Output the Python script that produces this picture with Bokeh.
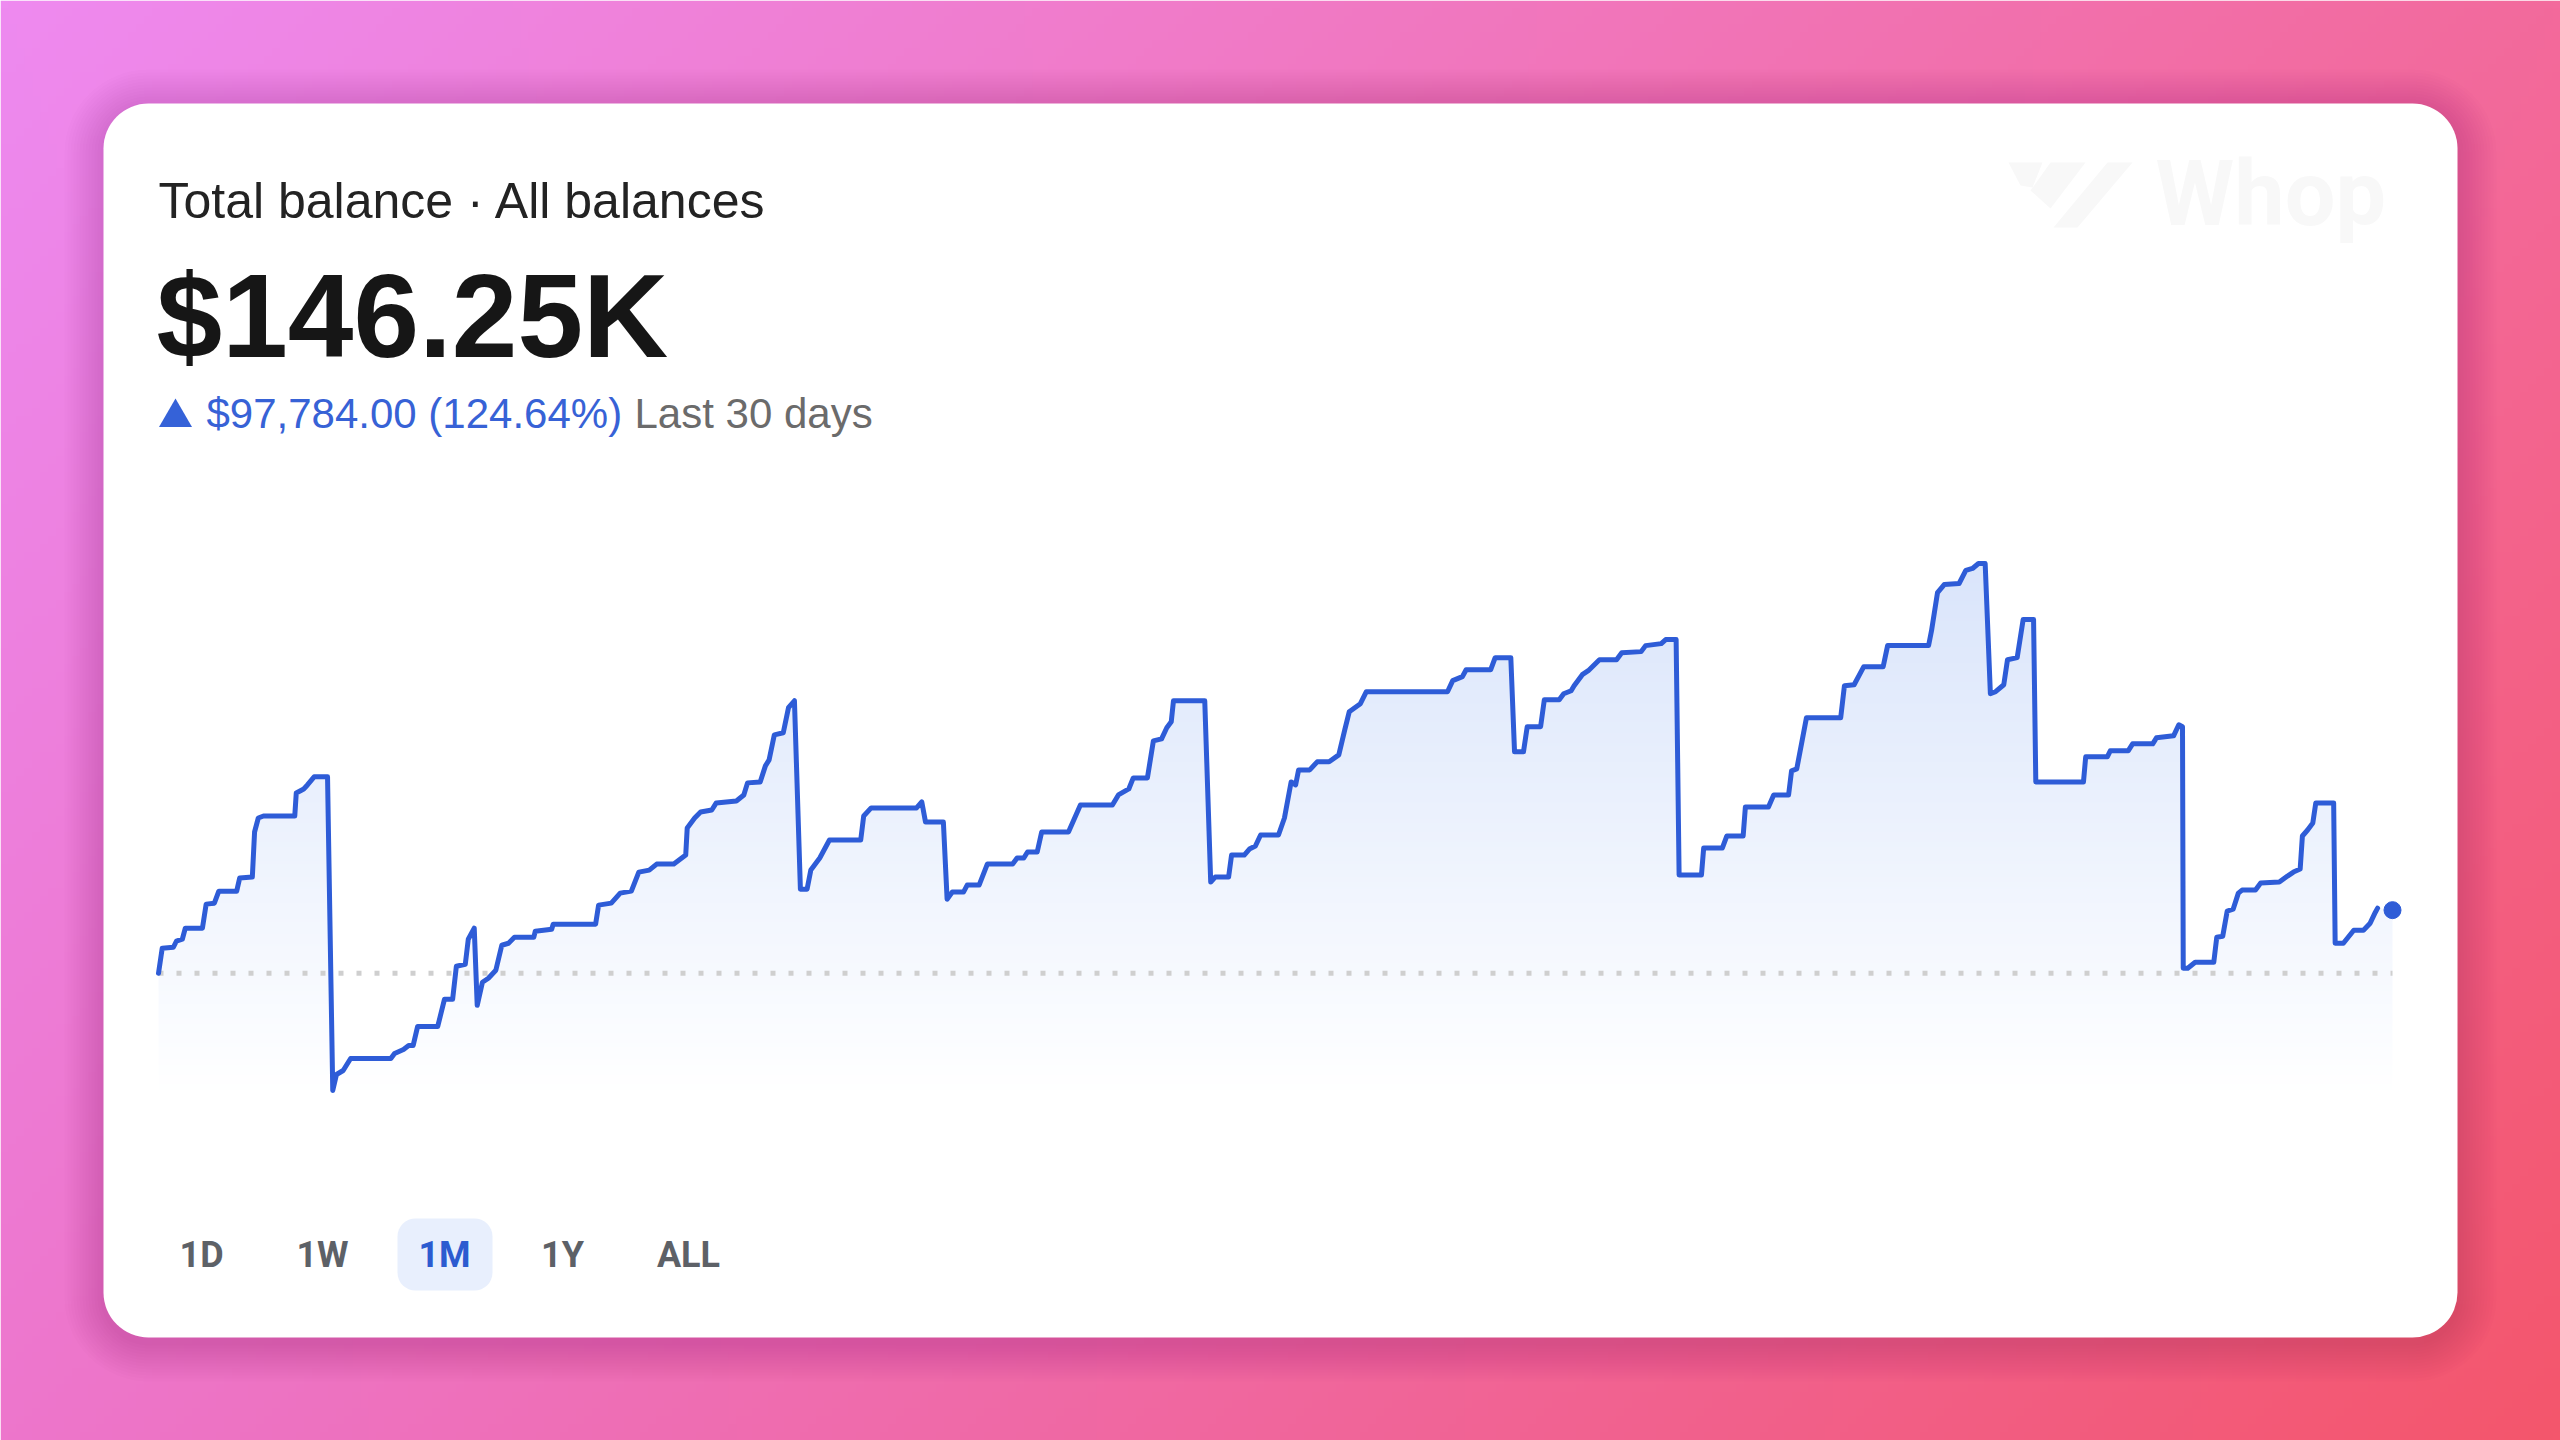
import numpy as np
from bokeh.plotting import figure
from bokeh.models import Range1d, BoxAnnotation, Label
from bokeh.embed import file_html
from bokeh.resources import INLINE

# ---------------- data ----------------
# balance over the last 30 days, in thousands of dollars
days = [
    0.00, 0.05, 0.20, 0.24, 0.32, 0.36, 0.59, 0.64, 0.75, 0.81,
    1.05, 1.09, 1.26, 1.29, 1.34, 1.41, 1.83, 1.85, 1.95, 2.00,
    2.09, 2.27, 2.34, 2.39, 2.48, 2.58, 3.12, 3.17, 3.29, 3.36,
    3.42, 3.48, 3.75, 3.84, 3.95, 4.00, 4.12, 4.16, 4.24, 4.28,
    4.35, 4.43, 4.53, 4.61, 4.70, 4.78, 5.04, 5.06, 5.28, 5.30,
    5.87, 5.91, 6.08, 6.20, 6.35, 6.45, 6.59, 6.69, 6.92, 7.08,
    7.10, 7.20, 7.28, 7.43, 7.49, 7.76, 7.86, 7.91, 8.08, 8.15,
    8.20, 8.27, 8.39, 8.46, 8.54, 8.62, 8.71, 8.76, 8.88, 9.01,
    9.43, 9.47, 9.57, 10.18, 10.25, 10.30, 10.54, 10.59, 10.66, 10.81,
    10.86, 11.02, 11.13, 11.47, 11.53, 11.62, 11.67, 11.80, 11.86, 12.22,
    12.38, 12.81, 12.89, 13.03, 13.09, 13.28, 13.36, 13.47, 13.54, 13.60,
    13.63, 14.05, 14.13, 14.19, 14.37, 14.41, 14.58, 14.65, 14.73, 14.80,
    15.04, 15.12, 15.21, 15.27, 15.31, 15.46, 15.56, 15.72, 15.85, 15.93,
    15.99, 16.14, 16.22, 17.31, 17.38, 17.51, 17.56, 17.89, 17.95, 18.16,
    18.21, 18.33, 18.38, 18.56, 18.61, 18.81, 18.87, 18.97, 19.01, 19.12,
    19.20, 19.35, 19.58, 19.65, 19.91, 19.97, 20.18, 20.24, 20.38, 20.42,
    20.72, 20.75, 21.00, 21.06, 21.28, 21.31, 21.62, 21.69, 21.89, 21.93,
    22.00, 22.13, 22.59, 22.64, 22.77, 22.90, 23.16, 23.22, 23.77, 23.81,
    23.89, 23.98, 24.18, 24.27, 24.36, 24.44, 24.53, 24.60, 24.67, 24.78,
    24.83, 24.96, 25.04, 25.18, 25.21, 25.85, 25.88, 26.17, 26.21, 26.45,
    26.51, 26.78, 26.83, 27.06, 27.13, 27.18, 27.19, 27.25, 27.35, 27.60,
    27.64, 27.72, 27.78, 27.86, 27.93, 27.98, 28.16, 28.23, 28.48, 28.59,
    28.67, 28.76, 28.79, 28.86, 28.93, 28.97, 29.21, 29.23, 29.34, 29.48,
    29.61, 29.70, 29.77, 29.80,
]
balance_k = [
    48.47, 87.3, 88.8, 98.1, 101.2, 118.3, 118.3, 155.6, 157.1, 175.7,
    175.7, 195.9, 197.5, 267.3, 289.0, 292.1, 292.1, 327.8, 334.0, 340.2,
    352.7, 352.7, -133.1, -108.3, -102.1, -83.5, -83.5, -75.7, -69.5, -63.3,
    -63.3, -33.8, -33.8, 8.1, 8.1, 59.3, 62.4, 101.2, 118.3, -1.2,
    34.5, 40.7, 53.1, 91.9, 95.0, 104.3, 104.3, 113.7, 116.8, 124.5,
    124.5, 154.0, 157.1, 172.6, 175.7, 205.2, 208.3, 217.6, 217.6, 231.6,
    273.5, 289.0, 298.3, 301.4, 312.3, 315.4, 324.7, 343.4, 344.9, 369.7,
    379.1, 417.8, 421.0, 459.8, 470.6, 178.8, 178.8, 208.3, 227.0, 254.9,
    254.9, 292.1, 304.6, 304.6, 313.9, 282.8, 282.8, 163.3, 174.2, 174.2,
    185.1, 185.1, 217.6, 217.6, 227.0, 227.0, 236.3, 236.3, 267.3, 267.3,
    309.2, 309.2, 324.7, 334.0, 351.1, 351.1, 408.5, 411.6, 428.7, 438.0,
    470.6, 470.6, 189.7, 197.5, 197.5, 231.6, 231.6, 240.9, 245.6, 262.6,
    262.6, 289.0, 344.9, 340.2, 363.5, 363.5, 376.0, 376.0, 386.8, 425.6,
    453.5, 466.0, 484.6, 484.6, 501.7, 507.9, 518.7, 518.7, 537.4, 537.4,
    391.5, 391.5, 430.3, 430.3, 472.2, 472.2, 481.5, 486.1, 493.9, 511.0,
    517.2, 534.2, 534.2, 545.1, 546.7, 556.0, 559.1, 565.3, 565.3, 200.6,
    200.6, 242.5, 242.5, 261.1, 261.1, 306.1, 306.1, 324.7, 324.7, 362.0,
    365.1, 444.2, 444.2, 493.9, 495.4, 523.4, 523.4, 556.0, 556.0, 579.3,
    638.2, 650.6, 652.2, 672.4, 675.5, 683.2, 683.2, 481.5, 484.6, 495.4,
    534.2, 537.4, 596.3, 596.3, 344.9, 344.9, 383.7, 383.7, 393.0, 393.0,
    403.9, 403.9, 413.2, 416.3, 433.4, 430.3, 56.2, 56.2, 65.5, 65.5,
    104.3, 105.9, 144.7, 147.8, 172.6, 177.3, 177.3, 188.2, 189.7, 199.0,
    205.2, 209.9, 261.1, 270.4, 281.3, 312.3, 312.3, 95.0, 95.0, 115.2,
    115.2, 126.1, 143.1, 149.4,
]
current_day = 30.0
current_balance_k = 146.25

title_text = "Total balance · All balances"
value_text = "$146.25K"
change_text = "$97,784.00 (124.64%)"
period_text = "Last 30 days"
range_labels = ["1D", "1W", "1M", "1Y", "ALL"]
active_range = "1M"

# ---------------- layout ----------------
W, H = 2560, 1440


def X(px):
    return px


def Y(py):
    return H - py


def TY(baseline_py, fs):
    # label anchor so that the text baseline lands at baseline_py
    return Y(baseline_py - 0.36 * fs)


p = figure(width=W, height=H, output_backend="svg", toolbar_location=None,
           x_range=Range1d(0, W), y_range=Range1d(0, H),
           x_axis_type=None, y_axis_type=None, min_border=0)
p.outline_line_color = None
p.background_fill_color = "white"
p.border_fill_color = "white"
p.grid.grid_line_color = None

# background gradient
gh, gw = 180, 320
u = np.linspace(0, 1, gw)[None, :]
ty = 1 - np.linspace(0, 1, gh)[:, None]  # fraction from top (row 0 = bottom)
TL = np.array([238, 138, 240])
TR = np.array([243, 106, 156])
BL = np.array([237, 118, 204])
BR = np.array([244, 86, 108])
bg = np.empty((gh, gw), dtype=np.uint32)
bv = bg.view(dtype=np.uint8).reshape((gh, gw, 4))
for c in range(3):
    col = (TL[c] * (1 - u) * (1 - ty) + TR[c] * u * (1 - ty)
           + BL[c] * (1 - u) * ty + BR[c] * u * ty)
    bv[:, :, c] = np.clip(col, 0, 255).astype(np.uint8)
bv[:, :, 3] = 255
p.image_rgba(image=[bg], x=0, y=0, dw=W, dh=H, level="image")

# card shadow + card
cl, ct, cr, cb = 103, 103, 2457, 1337
for i in range(1, 14):
    d = i * 3
    p.add_layout(BoxAnnotation(left=X(cl - d), right=X(cr + d),
                               top=Y(ct - d + 5), bottom=Y(cb + d + 5),
                               fill_color="#5a0a4a", fill_alpha=0.013,
                               line_color=None, border_radius=45 + d,
                               level="underlay"))
p.add_layout(BoxAnnotation(left=X(cl), right=X(cr), top=Y(ct), bottom=Y(cb),
                           fill_color="white", fill_alpha=1.0, line_color=None,
                           border_radius=45, level="underlay"))

# watermark
logo = [
    [(2008, 162), (2042, 162), (2032, 187), (2020, 185)],
    [(2050, 162), (2085, 162), (2050, 208), (2030, 190)],
    [(2107, 162), (2132, 162), (2077, 227), (2053, 227)],
]
p.patches(xs=[[X(a) for a, b in poly] for poly in logo],
          ys=[[Y(b) for a, b in poly] for poly in logo],
          fill_color="#F8F8F8", line_color=None)
p.add_layout(Label(x=X(2155), y=TY(226, 90), text="Whop", text_font="Roboto",
                   text_font_size="90px", text_font_style="bold",
                   text_color="#F8F8F8", text_baseline="alphabetic"))

# ---------------- chart ----------------
chart_left, chart_right = X(158), X(2392)
bx = (chart_right - chart_left) / (current_day - days[0])
p.extra_x_ranges = {"day": Range1d(days[0] - chart_left / bx,
                                   days[0] + (W - chart_left) / bx)}
vmin, vmax = min(balance_k), max(balance_k)
y_lo, y_hi = Y(1090), Y(563)
by = (y_hi - y_lo) / (vmax - vmin)
p.extra_y_ranges = {"val": Range1d(vmin - y_lo / by, vmin + (H - y_lo) / by)}
floor_val = vmin - (y_lo - Y(1172)) / by

fill_x = days + [current_day]
fill_y = balance_k + [current_balance_k]
p.varea(x=fill_x, y1=floor_val, y2=fill_y, fill_color="#DAE5FB",
        x_range_name="day", y_range_name="val")

# white fade over the fill (gradient)
rows = 200
top_py, bot_py = 540, 1180
ov = np.empty((rows, 2), dtype=np.uint32)
ovv = ov.view(dtype=np.uint8).reshape((rows, 2, 4))
py = bot_py - (np.arange(rows) + 0.5) * (bot_py - top_py) / rows
alpha = np.clip((py - 560.0) / 540.0, 0, 1)
ovv[:, :, 0:3] = 255
ovv[:, :, 3] = (alpha * 255).astype(np.uint8)[:, None]
p.image_rgba(image=[ov], x=X(140), y=Y(bot_py), dw=X(2410) - X(140),
             dh=Y(top_py) - Y(bot_py))

# baseline at the starting balance
p.line(x=[days[0], current_day], y=[balance_k[0], balance_k[0]],
       line_color="#CFCFCF", line_width=5, line_dash="5 13",
       x_range_name="day", y_range_name="val")

line_color = "#2E5CD7"
p.line(x=days, y=balance_k, line_color=line_color, line_width=5,
       line_join="round", line_cap="round",
       x_range_name="day", y_range_name="val")
p.scatter(x=[current_day], y=[current_balance_k], size=17, color=line_color,
          x_range_name="day", y_range_name="val")

# ---------------- header texts ----------------
p.add_layout(Label(x=X(158), y=TY(218, 50), text=title_text,
                   text_font="Liberation Sans", text_font_size="50px",
                   text_color="#232323", text_baseline="alphabetic"))
p.add_layout(Label(x=X(156), y=TY(358, 118), text=value_text,
                   text_font="Liberation Sans", text_font_size="118px",
                   text_font_style="bold", text_color="#161616",
                   text_baseline="alphabetic"))
p.scatter(x=[X(175)], y=[Y(417)], marker="triangle", size=33,
          color="#3562D8", line_color=None)
p.add_layout(Label(x=X(206), y=TY(428, 42), text=change_text,
                   text_font="Liberation Sans", text_font_size="42px",
                   text_color="#3762D6", text_baseline="alphabetic"))
p.add_layout(Label(x=X(634), y=TY(428, 42), text=period_text,
                   text_font="Liberation Sans", text_font_size="42px",
                   text_color="#6b6b6b", text_baseline="alphabetic"))

# ---------------- range buttons ----------------
btn_cx = [201, 322, 444, 562, 688]
for lab, cx in zip(range_labels, btn_cx):
    active = lab == active_range
    if active:
        p.add_layout(BoxAnnotation(left=X(cx - 47), right=X(cx + 48),
                                   top=Y(1218), bottom=Y(1290),
                                   fill_color="#E8EFFD", fill_alpha=1.0,
                                   line_color=None, border_radius=18,
                                   level="underlay"))
    p.add_layout(Label(x=X(cx), y=TY(1267, 36), text=lab, text_font="Roboto",
                       text_font_size="36px", text_font_style="bold",
                       text_color="#2C5BD0" if active else "#5d6167",
                       text_align="center", text_baseline="alphabetic"))

open("out.html", "w").write(file_html(p, INLINE))
